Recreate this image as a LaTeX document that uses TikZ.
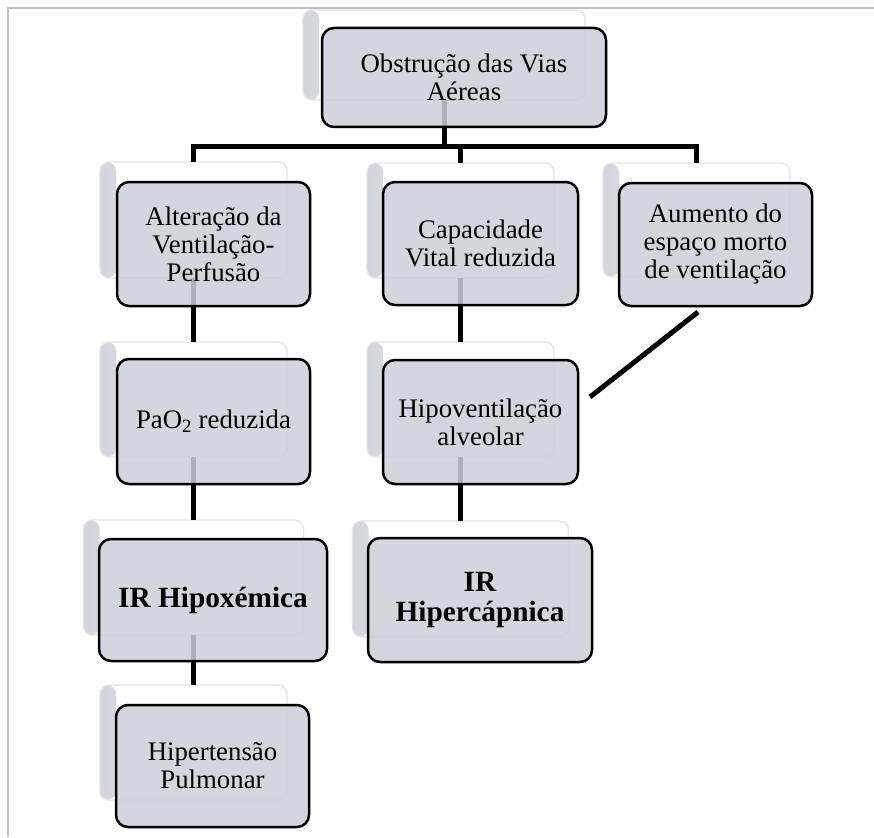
\documentclass[tikz,border=0pt]{standalone}
\usepackage{fontspec}
\setmainfont{Liberation Serif}
\usetikzlibrary{calc}
\definecolor{boxfill}{RGB}{205,206,217}
\definecolor{framegray}{RGB}{190,190,190}
\definecolor{cardedge}{RGB}{228,228,230}
\definecolor{cardshade}{RGB}{212,212,220}

\begin{document}
\begin{tikzpicture}[x=1pt,y=-1pt,
  card/.style={draw=cardedge, line width=1.4pt, fill=white, rounded corners=9pt,
    inner sep=0pt, outer sep=0pt,
    path picture={\fill[left color=cardshade, right color=white]
      (path picture bounding box.north west) rectangle
      ([xshift=16pt]path picture bounding box.south west);}},
  entry/.style={draw=black, line width=2.5pt,
    preaction={fill=boxfill, fill opacity=0.85},
    rounded corners=12pt, inner sep=0pt, outer sep=0pt,
    align=center, font=\fontsize{26.8}{28}\selectfont},
  strong/.style={entry, font=\fontsize{29.3}{30}\selectfont\bfseries},
  link/.style={draw=black, line width=5pt}
]
\useasboundingbox (0,0) rectangle (874,837);

% page frame
\draw[framegray, line width=2pt] (8,837) -- (8,8) -- (874,8);

% back cards
\node[card, minimum width=282pt, minimum height=90pt]  (b0) at (444,55) {};
\node[card, minimum width=187pt, minimum height=116pt] (b1) at (193.5,220) {};
\node[card, minimum width=187pt, minimum height=115pt] (b2) at (460.5,220.5) {};
\node[card, minimum width=187pt, minimum height=114pt] (b3) at (696.5,220) {};
\node[card, minimum width=187pt, minimum height=115pt] (b4) at (193.5,399.5) {};
\node[card, minimum width=187pt, minimum height=115pt] (b5) at (460.5,399.5) {};
\node[card, minimum width=220pt, minimum height=115pt] (b6) at (193.5,577.5) {};
\node[card, minimum width=216pt, minimum height=116pt] (b7) at (460.5,579) {};
\node[card, minimum width=187pt, minimum height=115pt] (b8) at (193.5,742.5) {};

% connectors
\coordinate (bar) at (0,147);
\draw[link] (b0.south) -- (b0.south |- bar);
\draw[link] (b1.north) -- (b1.north |- bar) -- (b3.north |- bar) -- (b3.north);
\draw[link] (b2.north |- bar) -- (b2.north);
\draw[link] (b1.south) -- (b4.north);
\draw[link] (b4.south) -- (b6.north);
\draw[link] (b6.south) -- (b8.north);
\draw[link] (b2.south) -- (b5.north);
\draw[link] (b5.south) -- (b7.north);

% front boxes
\node[entry, minimum width=284pt, minimum height=99pt]  (f0) at (464,77.5) {Obstrução das Vias\\Aéreas};
\node[entry, minimum width=193pt, minimum height=124pt] (f1) at (213.5,244) {Alteração da\\Ventilação-\\Perfusão};
\node[entry, minimum width=195pt, minimum height=123pt] (f2) at (480.5,243.5) {Capacidade\\Vital reduzida};
\node[entry, minimum width=193pt, minimum height=123pt] (f3) at (715.5,244.5) {Aumento do\\espaço morto\\de ventilação};
\node[entry, minimum width=193pt, minimum height=125pt] (f4) at (213.5,421.5) {PaO\textsubscript{2} reduzida};
\node[entry, minimum width=195pt, minimum height=124pt] (f5) at (480.5,422) {Hipoventilação\\alveolar};
\node[strong, minimum width=228pt, minimum height=122pt] (f6) at (213,600) {IR Hipoxémica};
\node[strong, minimum width=224pt, minimum height=124pt] (f7) at (480,600) {IR\\Hipercápnica};
\node[entry, minimum width=193pt, minimum height=122pt] (f8) at (212.5,766) {Hipertensão\\Pulmonar};

% dead-space link
\coordinate (dA) at (698,312);
\coordinate (dB) at (590,397);
\draw[link] (dA) -- (dB);
\end{tikzpicture}
\end{document}
